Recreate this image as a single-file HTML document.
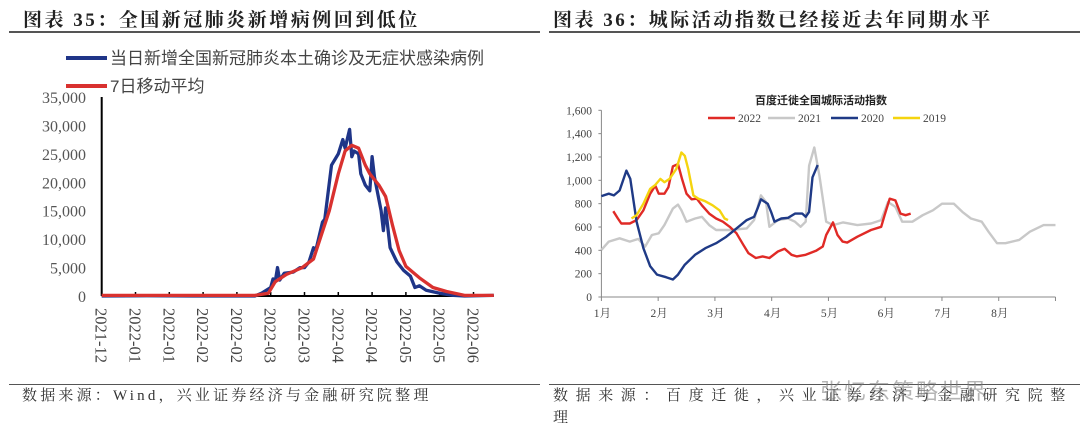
<!DOCTYPE html>
<html><head><meta charset="utf-8">
<style>
html,body{margin:0;padding:0;background:#fff;}
body{width:1080px;height:436px;position:relative;overflow:hidden;font-family:"Liberation Serif","Noto Serif CJK SC",serif;}
.t{position:absolute;font-weight:bold;font-size:19px;color:#222;letter-spacing:2.5px;white-space:nowrap;}
.src{position:absolute;font-size:15px;color:#333;white-space:nowrap;line-height:22px;}
.hr{position:absolute;height:2px;background:#555;}
svg{position:absolute;left:0;top:0;}
</style></head><body>
<div class="t" style="left:23px;top:5px;">图表 35：全国新冠肺炎新增病例回到低位</div>
<div class="hr" style="left:9px;top:31px;width:531px;"></div>
<div class="t" style="left:553px;top:5px;">图表 36：城际活动指数已经接近去年同期水平</div>
<div class="hr" style="left:549px;top:31px;width:531px;"></div>
<div class="hr" style="left:9px;top:384px;width:531px;height:1px;"></div>
<div class="hr" style="left:549px;top:384px;width:531px;height:1px;"></div>
<div class="src" style="left:22px;top:385px;letter-spacing:3.2px;">数据来源：Wind，兴业证券经济与金融研究院整理</div>
<div class="src" style="left:553px;top:385px;letter-spacing:7.6px;">数据来源：百度迁徙，兴业证券经济与金融研究院整<br>理</div>
<div style="position:absolute;left:820px;top:374px;font-family:'Liberation Sans','Noto Sans CJK SC',sans-serif;font-size:22px;color:rgba(120,120,120,0.55);letter-spacing:2px;">张忆东策略世界</div>

<svg id="chart" width="1080" height="436"></svg>
<script>
// ---- Left chart data ----
const leftXTicks = ["2021-12","2022-01","2022-01","2022-02","2022-02","2022-03","2022-03","2022-04","2022-04","2022-05","2022-05","2022-06"];
const leftYTicks = [0,5000,10000,15000,20000,25000,30000,35000];
const dailyDays = [0,20,40,60,68,71,75,76,77,78,79,81,85,88,90,92,94,95,98,99,102,105,107,108,110,111,112,114,115,117,119,120,121,124,125,126,128,131,134,137,139,141,144,150,156,161,174];
const dailyCases = [0,50,0,0,0,500,1500,3000,2500,5000,2800,4000,4200,5000,5000,6000,8500,8000,13000,13500,23000,25000,27500,26000,29300,24500,25500,25000,21500,19500,18500,24500,21000,15000,11500,15500,8500,6000,4500,3500,1500,1800,1000,500,100,0,100];
const maDays = [0,30,60,68,74,77,82,89,94,101,105,108,111,114,117,119,123,126,129,132,135,141,147,153,161,174];
const maCases = [100,100,100,100,500,2500,3800,5000,6500,15000,21500,25500,26500,26000,23000,21500,19500,17500,12500,8000,5200,3200,1500,800,100,100];

// ---- Right chart data ----
const monthLabels = ["1月","2月","3月","4月","5月","6月","7月","8月"];
const rightYTicks = [0,200,400,600,800,1000,1200,1400,1600];
const m2022 = [0.21,0.29,0.35,0.50,0.62,0.74,0.86,0.95,1.01,1.11,1.18,1.26,1.35,1.42,1.50,1.59,1.68,1.77,1.90,2.02,2.14,2.26,2.38,2.50,2.59,2.72,2.84,2.96,3.11,3.23,3.35,3.44,3.60,3.78,3.90,3.96,4.08,4.16,4.25,4.33,4.51,4.75,4.93,4.99,5.08,5.18,5.27,5.36,5.45];
const v2022 = [735,673,630,630,659,743,885,955,885,885,941,1120,1139,1012,885,837,842,786,715,673,645,602,546,447,376,334,348,334,390,413,362,348,362,396,433,531,639,531,475,466,517,574,602,701,842,828,715,701,715];
const m2021 = [0,0.13,0.32,0.50,0.65,0.77,0.89,1.01,1.11,1.26,1.35,1.41,1.50,1.65,1.77,1.90,2.02,2.26,2.56,2.69,2.81,2.90,2.96,3.11,3.29,3.41,3.51,3.60,3.66,3.75,3.84,3.96,4.08,4.26,4.51,4.75,4.93,5.05,5.18,5.30,5.48,5.66,5.84,6.00,6.21,6.36,6.51,6.70,6.82,6.97,7.12,7.36,7.55,7.79,8.00];
const v2021 = [404,475,503,475,498,432,531,546,616,758,792,743,645,673,687,616,574,574,588,659,871,814,602,659,673,645,602,645,1125,1281,1040,645,616,639,616,630,659,814,772,645,645,701,743,800,800,729,673,645,560,461,461,489,560,616,616];
const m2020 = [0,0.13,0.22,0.32,0.44,0.51,0.62,0.74,0.86,0.98,1.14,1.26,1.35,1.47,1.65,1.83,2.02,2.20,2.38,2.56,2.69,2.75,2.81,2.93,2.99,3.05,3.17,3.29,3.41,3.54,3.60,3.66,3.72,3.81];
const v2020 = [865,885,871,913,1083,1012,645,418,263,192,170,150,192,277,362,418,461,517,588,659,687,758,837,800,729,645,673,679,715,715,687,729,1026,1131];
const m2019 = [0.53,0.62,0.74,0.86,0.95,1.04,1.11,1.20,1.32,1.41,1.47,1.53,1.62,1.71,1.83,1.96,2.08,2.17,2.23];
const v2019 = [673,701,800,927,961,1012,984,1012,1097,1238,1210,1097,871,842,820,786,743,673,659];

const NS="http://www.w3.org/2000/svg";
const svg=document.getElementById('chart');
function mk(tag,attrs,parent){const e=document.createElementNS(NS,tag);for(const k in attrs)e.setAttribute(k,attrs[k]);(parent||svg).appendChild(e);return e;}

// ---- Left axes ----
const LX0=101.7, LPD=33.8/15, LY0=296, LYS=199/35000;
const lx=d=>LX0+d*LPD, ly=v=>LY0-v*LYS;
const lg=mk('g',{});


const ya=mk('line',{x1:LX0,y1:ly(35000),x2:LX0,y2:LY0,stroke:'#000','stroke-width':2},lg);


const xa=mk('line',{x1:LX0,y1:LY0,x2:lx(174),y2:LY0,stroke:'#000','stroke-width':2},lg);


leftYTicks.forEach(v=>{
  const t=mk('text',{x:86,y:ly(v)+6,'text-anchor':'end','font-size':16,fill:'#555','font-family':'Liberation Serif,serif'},lg);
  t.textContent=v.toLocaleString('en-US');
  
  
});
leftXTicks.forEach((lab,i)=>{
  const x=lx(i*15);
  mk('line',{x1:x,y1:LY0,x2:x,y2:LY0-4,stroke:'#000','stroke-width':1.5},lg);
  const t=mk('text',{x:0,y:0,transform:`translate(${x-6},${LY0+12}) rotate(90)`,'font-size':16.5,fill:'#444','font-family':'Liberation Serif,serif'},lg);
  t.textContent=lab;
  
  
});
function path(xs,ys,fx,fy){return xs.map((d,i)=>(i?'L':'M')+fx(d).toFixed(1)+','+fy(ys[i]).toFixed(1)).join('');}
const bl=mk('path',{d:path(dailyDays,dailyCases,lx,ly),fill:'none',stroke:'#1f3588','stroke-width':3.3,'stroke-linejoin':'round'},lg);


const rl=mk('path',{d:path(maDays,maCases,lx,ly),fill:'none',stroke:'#d9312f','stroke-width':3.3,'stroke-linejoin':'round'},lg);


[["#1f3588","当日新增全国新冠肺炎本土确诊及无症状感染病例",58],["#d9312f","7日移动平均",86]].forEach(([c,lab,y])=>{
  const l=mk('line',{x1:66,y1:y,x2:107,y2:y,stroke:c,'stroke-width':4},lg);
  
  
  const t=mk('text',{x:110,y:y+6,'font-size':17,fill:'#444','font-family':'Liberation Sans,Noto Sans CJK SC,sans-serif'},lg);
  t.textContent=lab;
  
  
});

// ---- Right axes ----
const RX0=601.4, RPM=56.76, RY0=297, RYS=186.7/1600;
const rx=m=>RX0+m*RPM, ry=v=>RY0-v*RYS;
const rg=mk('g',{});


const rya=mk('line',{x1:RX0,y1:ry(1600),x2:RX0,y2:RY0,stroke:'#888','stroke-width':1},rg);


const rxa=mk('line',{x1:RX0,y1:RY0,x2:rx(8),y2:RY0,stroke:'#888','stroke-width':1},rg);


rightYTicks.forEach(v=>{
  mk('line',{x1:RX0-3,y1:ry(v),x2:RX0,y2:ry(v),stroke:'#888'},rg);
  const t=mk('text',{x:592,y:ry(v)+4,'text-anchor':'end','font-size':11.5,fill:'#444','font-family':'Liberation Serif,serif'},rg);
  t.textContent=v.toLocaleString('en-US');
  
  
});
for(let i=0;i<=8;i++){mk('line',{x1:rx(i),y1:RY0,x2:rx(i),y2:RY0+4,stroke:'#888'},rg);}
monthLabels.forEach((lab,i)=>{
  const t=mk('text',{x:rx(i)+1,y:RY0+20,'text-anchor':'middle','font-size':11.5,fill:'#444','font-family':'Liberation Serif,Noto Serif CJK SC,serif'},rg);
  t.textContent=lab;
  
  
});
const series=[["2021",m2021,v2021,"#c8c8c8"],["2022",m2022,v2022,"#e02a26"],["2020",m2020,v2020,"#1f3a86"],["2019",m2019,v2019,"#f5d40f"]];
series.forEach(([n,ms,vs,c])=>{
  const p=mk('path',{d:path(ms,vs,rx,ry),fill:'none',stroke:c,'stroke-width':2.4,'stroke-linejoin':'round'},rg);
  
  
});
const ct=mk('text',{x:821,y:104,'text-anchor':'middle','font-size':11,'font-weight':'bold',fill:'#222','font-family':'Liberation Sans,Noto Sans CJK SC,sans-serif'},rg);
ct.textContent='百度迁徙全国城际活动指数';


[["2022","#e02a26",708],["2021","#c8c8c8",768],["2020","#1f3a86",831],["2019","#f5d40f",893]].forEach(([n,c,x])=>{
  const l=mk('line',{x1:x,y1:118,x2:x+27,y2:118,stroke:c,'stroke-width':2.4},rg);
  
  
  const t=mk('text',{x:x+30,y:122,'font-size':11.5,fill:'#444','font-family':'Liberation Serif,serif'},rg);
  t.textContent=n;
  
  
});
</script>
</body></html>
